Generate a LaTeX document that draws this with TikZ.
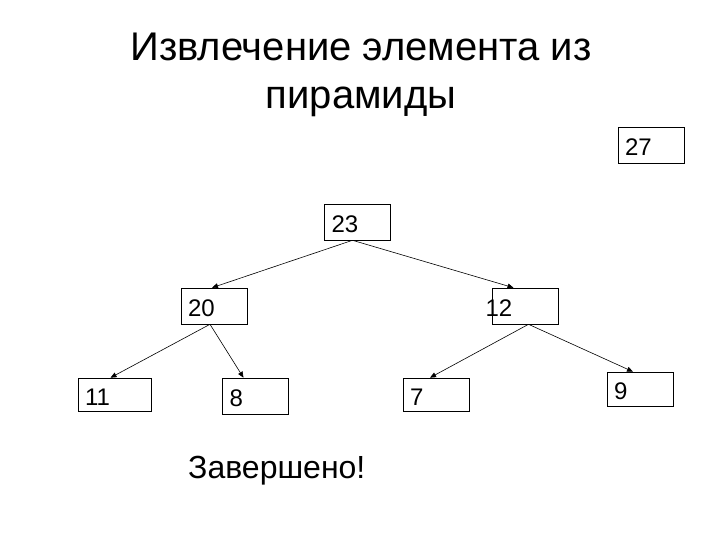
\documentclass[tikz,border=0pt]{standalone}
\usepackage{fontspec}
\setmainfont{Liberation Sans}
\usetikzlibrary{arrows.meta}

\begin{document}
\begin{tikzpicture}[x=1pt,y=-1pt,>={Triangle[length=6pt,width=5pt]}]
\tikzset{
    key/.style={draw,line width=0.6pt,inner xsep=7pt,inner ysep=0pt,text width=52pt,align=left,
        text height=21pt,text depth=0pt,minimum height=36pt,font=\fontsize{24}{26}\selectfont},
    heading/.style={align=center,font=\fontsize{40}{48}\selectfont},
    link/.style={->,line width=0.6pt}
}
\useasboundingbox (0,0) rectangle (720,540);
\node[heading] (title) at (361,75) {Извлечение элемента из\\пирамиды};

\node[key] (k27) at (651,145.5) {27};
\node[key] (k23) at (357.5,222) {23};
\node[key] (k20) at (214,306) {20};
\node[key] (k12) at (525.5,306) {\hspace*{-14pt}12};
\node[key,text width=59pt,minimum height=33pt] (k11) at (114.5,394.5) {11};
\node[key] (k8) at (255.5,396) {8};
\node[key,minimum height=33pt] (k7) at (436,394.5) {7};
\node[key,minimum height=34pt] (k9) at (640,389) {9};

\draw[link] ([xshift=-5pt]k23.south) -- ([xshift=-2pt]k20.north);
\draw[link] ([xshift=-5pt]k23.south) -- ([xshift=-12pt]k12.north);
\draw[link] ([xshift=-4pt]k20.south) -- ([xshift=-4pt]k11.north);
\draw[link] ([xshift=-4pt]k20.south) -- ([xshift=-12pt]k8.north);
\draw[link] ([xshift=3pt]k12.south) -- ([xshift=-6pt]k7.north);
\draw[link] ([xshift=3pt]k12.south) -- ([xshift=-7pt]k9.north);

\node[font=\fontsize{32}{36}\selectfont,anchor=base west,inner sep=0pt] (done) at (188,478) {Завершено!};
\end{tikzpicture}
\end{document}
